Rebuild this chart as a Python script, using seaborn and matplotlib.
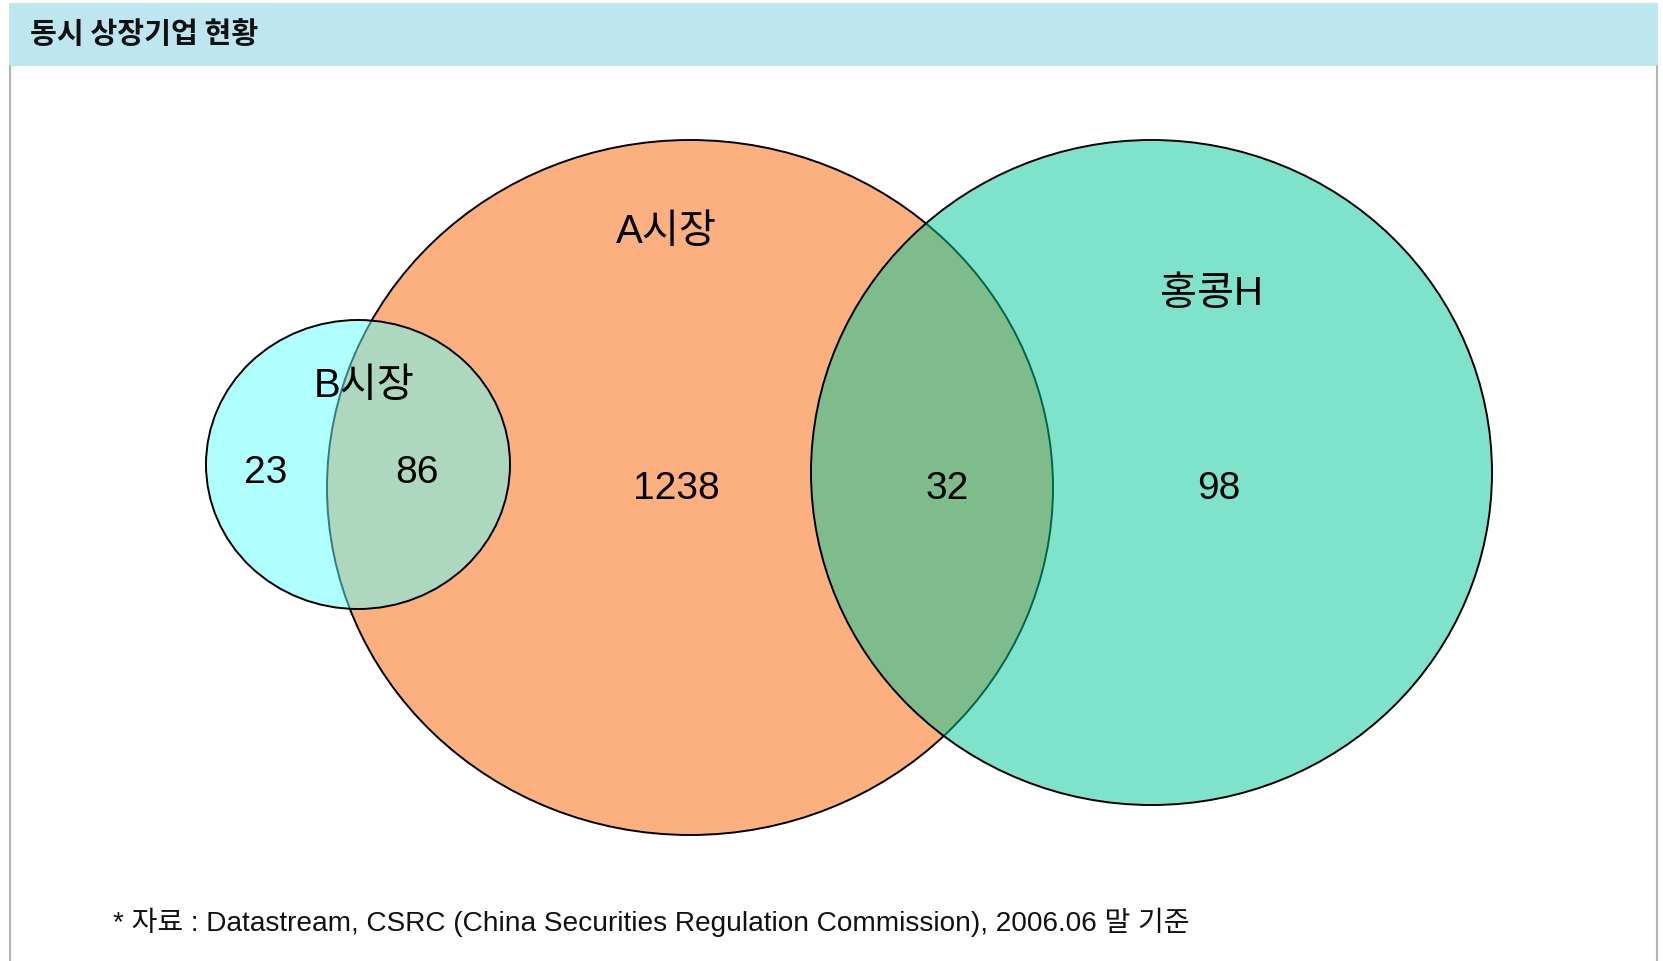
import matplotlib
matplotlib.use("Agg")
import matplotlib.pyplot as plt
from matplotlib.patches import Ellipse, Rectangle
import seaborn as sns

sns.set_theme(style="white")
plt.rcParams['font.family'] = ['Noto Sans CJK KR', 'DejaVu Sans']
MIX = ['Liberation Sans', 'Noto Sans CJK KR']

# ---- data ----
title = "동시 상장기업 현황"
set_names = ["A시장", "B시장", "홍콩H"]
region_labels = ["B only", "A∩B", "A only", "A∩H", "H only"]
region_counts = [23, 86, 1238, 32, 98]
footnote = "* 자료 : Datastream, CSRC (China Securities Regulation Commission), 2006.06 말 기준"

# ---- layout (pixel space) ----
W, H = 1663, 962
fig = plt.figure(figsize=(W / 100, H / 100), dpi=100)
ax = fig.add_axes([0, 0, 1, 1])
ax.set_xlim(0, W)
ax.set_ylim(H, 0)
ax.axis("off")

# title bar
ax.add_patch(Rectangle((9, 4), 1649, 63, facecolor="#BEE6F0", edgecolor="none", zorder=1))
ax.text(30, 34, title, fontsize=21, fontweight="bold", ha="left", va="center", color="#111111", zorder=5)
# side border lines
ax.plot([10, 10], [67, H], color="#b4b4b4", lw=1.5, zorder=1)
ax.plot([1657, 1657], [67, H], color="#b4b4b4", lw=1.5, zorder=1)

# circles: (center, width, height, face rgba)
circles = {
    "A시장": ((690, 488.5), 726, 695, (253/255, 176/255, 127/255, 1.0)),
    "B시장": ((358, 465.5), 304, 289, (97/255, 1.0, 1.0, 0.5)),
    "홍콩H": ((1151.5, 473.5), 681, 665, (1/255, 201/255, 153/255, 0.5)),
}
for z, name in enumerate(["A시장", "B시장", "홍콩H"]):
    c, w, h, fc = circles[name]
    ax.add_patch(Ellipse(c, w, h, facecolor=fc, edgecolor="black", lw=1.4, zorder=2 + z))

# set labels
set_label_pos = {"A시장": (666, 232), "B시장": (364, 386), "홍콩H": (1212, 294)}
for name in set_names:
    x, y = set_label_pos[name]
    ax.text(x, y, name, fontsize=29, family=MIX, ha="center", va="center", color="black", zorder=10)

# region counts
count_pos = [(266, 473), (417, 473), (676, 489), (947, 489), (1219, 489)]
for (x, y), v in zip(count_pos, region_counts):
    ax.text(x, y, str(v), fontsize=28, family=MIX, ha="center", va="center", color="black", zorder=10)

# footnote
ax.text(113, 922, footnote, fontsize=20.2, family=MIX, ha="left", va="center", color="#111111", zorder=10)

fig.savefig("out.png", dpi=100)
